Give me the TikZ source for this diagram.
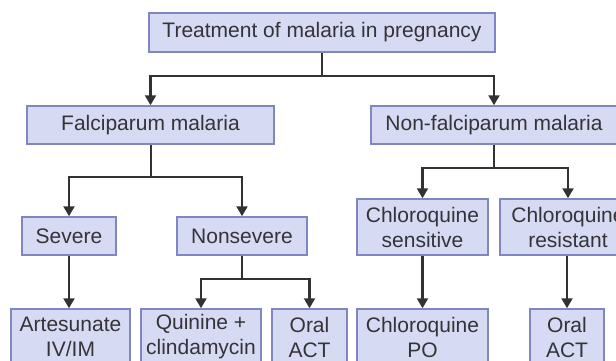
\documentclass[tikz,border=0pt]{standalone}
\usepackage{fontspec}
\setmainfont{Liberation Sans}
\usetikzlibrary{arrows.meta}
\definecolor{boxfill}{RGB}{214,218,242}
\definecolor{boxline}{RGB}{128,134,192}
\definecolor{inktext}{RGB}{52,52,56}
\definecolor{wire}{RGB}{50,50,50}
\begin{document}
\begin{tikzpicture}[x=1pt,y=-1pt,
  stepbox/.style={draw=boxline,fill=boxfill,line width=1.5pt,text=inktext,
    inner sep=0pt,align=center,font=\fontsize{21}{25}\selectfont},
  link/.style={draw=wire,line width=2.2pt},
  arr/.style={link,-{Triangle[width=11pt,length=10pt]}}]
\useasboundingbox (0,0) rectangle (616,360);
\clip (0,0) rectangle (616,360);
% level 0
\node[stepbox,minimum width=346pt,minimum height=39pt] (top) at (322,32.5) {Treatment of malaria in pregnancy};
% level 1
\node[stepbox,minimum width=247pt,minimum height=38pt] (falc) at (150.5,125) {Falciparum malaria};
\node[stepbox,minimum width=246pt,minimum height=38pt] (nonf) at (494,125) {Non-falciparum malaria};
% level 2
\node[stepbox,minimum width=94pt,minimum height=38pt] (severe) at (69,236) {Severe};
\node[stepbox,minimum width=130pt,minimum height=38pt] (nonsev) at (242,236) {Nonsevere};
\node[stepbox,minimum width=131pt,minimum height=56pt] (sens) at (422.5,227) {Chloroquine\\sensitive};
\node[stepbox,minimum width=136pt,minimum height=56pt] (resist) at (568,227) {Chloroquine\\resistant};
% level 3
\node[stepbox,minimum width=119pt,minimum height=56pt] (arte) at (70.5,337) {Artesunate\\IV/IM};
\node[stepbox,minimum width=120pt,minimum height=56pt] (quin) at (201,337) {Quinine +\\clindamycin};
\node[stepbox,minimum width=75pt,minimum height=56pt] (oact1) at (309.5,337) {Oral\\ACT};
\node[stepbox,minimum width=131pt,minimum height=56pt] (cpo) at (422.5,337) {Chloroquine\\PO};
\node[stepbox,minimum width=74pt,minimum height=56pt] (oact2) at (567,337) {Oral\\ACT};
% junction points of the branching connectors
\coordinate (j0) at (322,76);
\coordinate (j1) at (151,177);
\coordinate (j2) at (494,168);
\coordinate (j3) at (242,279);
% connectors
\draw[link] (top.south) -- (j0);
\draw[arr] (j0) -| (falc.north);
\draw[arr] (j0) -| (nonf.north);
\draw[link] (falc.south -| j1) -- (j1);
\draw[arr] (j1) -| (severe.north);
\draw[arr] (j1) -| (nonsev.north);
\draw[link] (nonf.south) -- (j2);
\draw[arr] (j2) -| (sens.north);
\draw[arr] (j2) -| (resist.north);
\draw[arr] (severe.south) -- (severe.south |- arte.north);
\draw[link] (nonsev.south) -- (j3);
\draw[arr] (j3) -| (quin.north);
\draw[arr] (j3) -| (oact1.north);
\draw[arr] (sens.south) -- (sens.south |- cpo.north);
\draw[arr] (oact2.north |- resist.south) -- (oact2.north);
\end{tikzpicture}
\end{document}
